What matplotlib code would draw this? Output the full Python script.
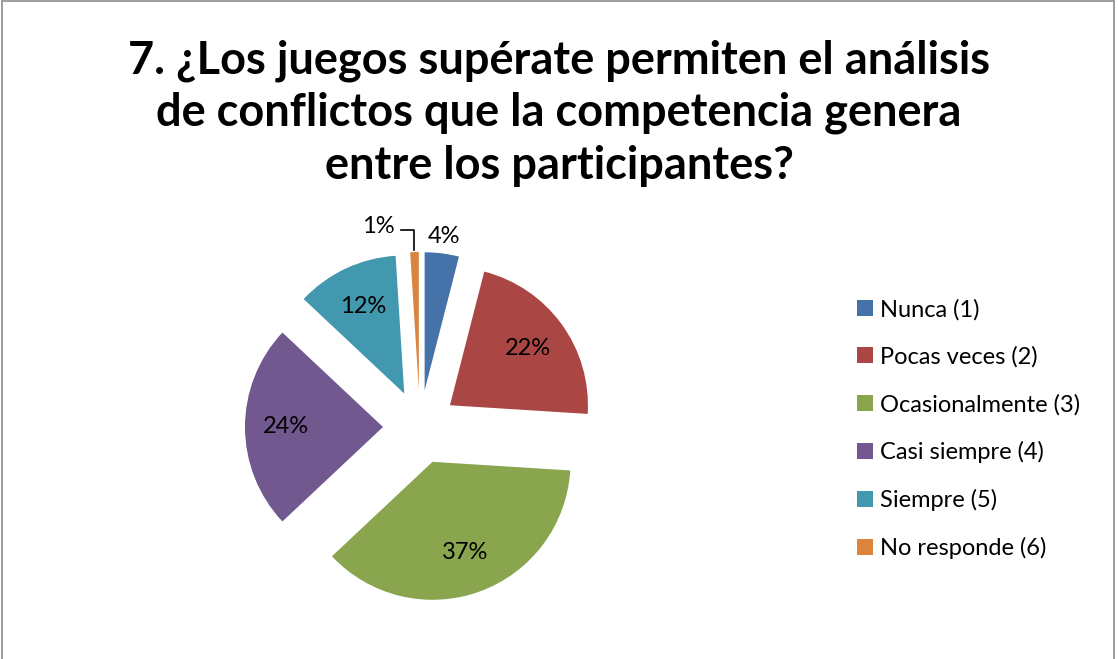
import matplotlib
matplotlib.use("Agg")
import matplotlib.pyplot as plt
from matplotlib.patches import Rectangle
import numpy as np

plt.rcParams["font.family"] = ["Lato", "DejaVu Sans"]

TITLE = ("7. ¿Los juegos supérate permiten el análisis\n"
         "de conflictos que la competencia genera\n"
         "entre los participantes?")
CATEGORIES = ["Nunca (1)", "Pocas veces (2)", "Ocasionalmente (3)",
              "Casi siempre (4)", "Siempre (5)", "No responde (6)"]
PERCENTS = [4, 22, 37, 24, 12, 1]
COLORS = ["#4672AA", "#AA4644", "#89A54E", "#71588F", "#4198AF", "#DB843D"]

W, H = 1118, 659
fig = plt.figure(figsize=(W / 100, H / 100), dpi=100)
ax = fig.add_axes([0, 0, 1, 1])
ax.set_xlim(0, W)
ax.set_ylim(0, H)
ax.set_aspect("equal")
ax.axis("off")

# chart frame
fig.patches.append(Rectangle((2 / W, -0.01), 1112 / W, 1.0 - 1 / H + 0.01,
                             transform=fig.transFigure, fill=False,
                             edgecolor="#8C8C8C", linewidth=1.2))

radius = 138
wedges, texts, autotexts = ax.pie(
    PERCENTS, colors=COLORS, startangle=90, counterclock=False,
    center=(420, 232), radius=radius, explode=[37] * len(PERCENTS),
    autopct="%1.0f%%", pctdistance=0.7,
    wedgeprops=dict(linewidth=0),
    textprops=dict(fontsize=17, color="black"))
ax.set_xlim(0, W)
ax.set_ylim(0, H)

def outer_point(w, frac):
    th = np.deg2rad((w.theta1 + w.theta2) / 2)
    return (w.center[0] + frac * w.r * np.cos(th),
            w.center[1] + frac * w.r * np.sin(th))

# small slice labels outside
autotexts[0].set_position(outer_point(wedges[0], 1.12))
ox, oy = outer_point(wedges[5], 1.0)
autotexts[5].set_position((ox - 36, oy + 26))
ax.plot([ox - 14, ox - 1, ox - 1], [oy + 22, oy + 22, oy + 2],
        color="black", linewidth=1.2)

fig.text(0.5, 1 - 113 / H, TITLE, ha="center", va="center",
         fontsize=32.5, fontweight="bold", linespacing=1.3)

ax.legend(wedges, CATEGORIES, loc="center left",
          bbox_to_anchor=(848 / W, 1 - 429 / H), bbox_transform=fig.transFigure,
          frameon=False, fontsize=17, handlelength=0.65, handleheight=0.65,
          handletextpad=0.32, labelspacing=1.1, borderaxespad=0)

fig.savefig("out.png", dpi=100)
